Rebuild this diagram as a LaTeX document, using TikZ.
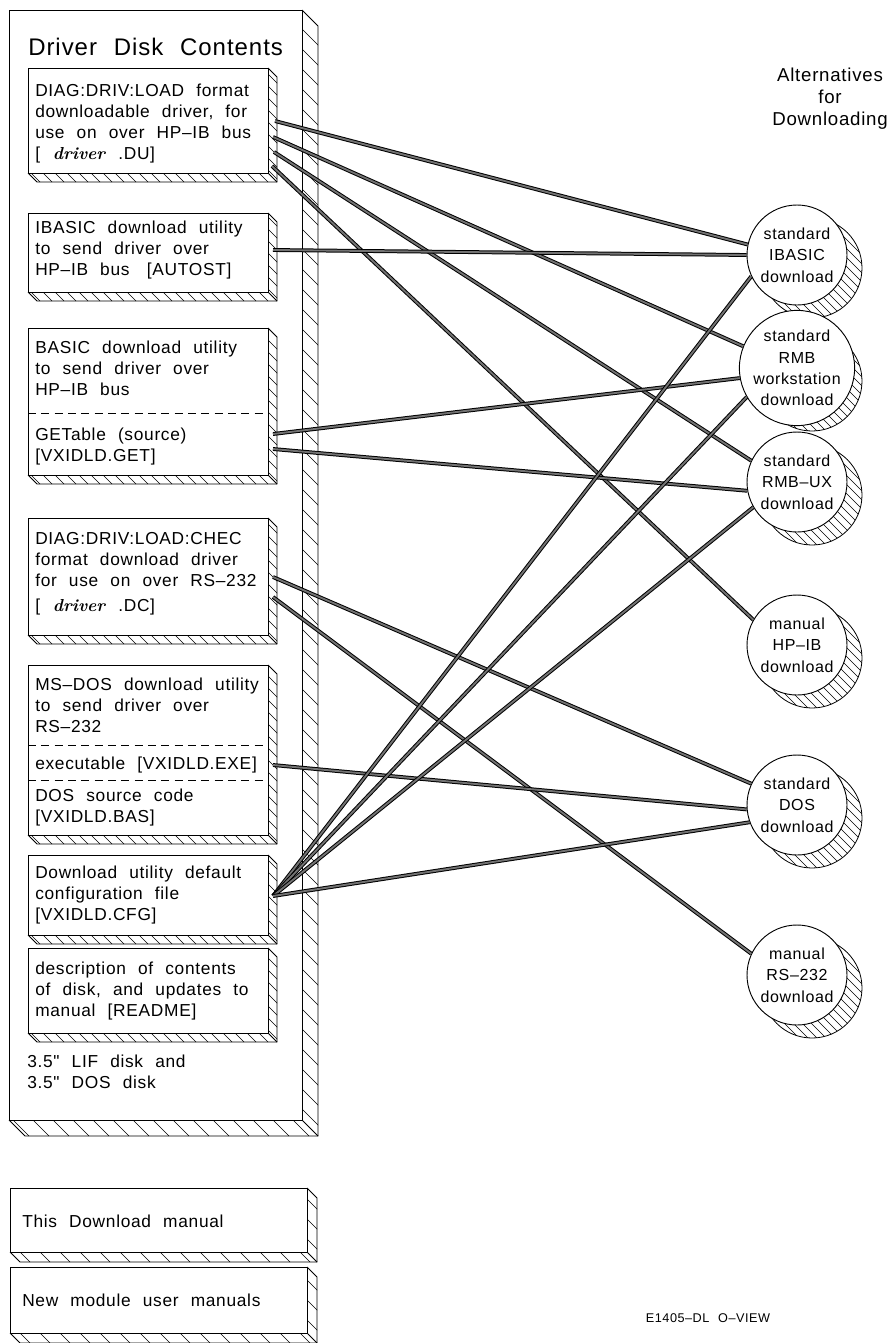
\documentclass[tikz,border=0pt]{standalone}
\usepackage{fontspec}
\newfontfamily\cad{Liberation Sans}[LetterSpace=4.0,WordSpace=2.2]
\usetikzlibrary{fit}
\tikzset{
  edge/.style={line width=0.6pt},
  hatchline/.style={line width=0.4pt},
  face/.style={draw, line width=0.6pt, fill=white, inner sep=0pt},
  txt/.style={font=\cad\fontsize{13}{15.75}\selectfont, align=left, inner sep=0pt, anchor=base west},
  circ/.style={draw, circle, line width=0.7pt, fill=white, inner sep=0pt, minimum size=75pt,
    align=center, font=\cad\fontsize{12}{16}\selectfont},
  conn/.style={draw=black, line width=0.75pt, double=black!55, double distance=1.4pt},
  sep/.style={line width=0.6pt, dash pattern=on 6pt off 4pt},
}
\newcommand{\slab}[7]{%
  \begin{scope}
    \clip (#4,#3) -- ({#4+#6},{#3+#6}) -- ({#4+#6},{#5+#6}) -- ({#2+#6},{#5+#6}) -- (#2,#5) -- (#4,#5) -- cycle;
    \pgfmathsetmacro{\kmin}{#2-#5-#6}
    \pgfmathsetmacro{\kmax}{#4+#6-#3}
    \pgfmathsetmacro{\knext}{\kmin+#7}
    \foreach \k in {\kmin,\knext,...,\kmax} \draw[hatchline] ({\k+#3},#3) -- ({\k+#5+#6},{#5+#6});
  \end{scope}
  \draw[edge] (#4,#3) -- ({#4+#6},{#3+#6}) -- ({#4+#6},{#5+#6}) -- ({#2+#6},{#5+#6}) -- (#2,#5);
  \draw[edge] (#4,#5) -- ({#4+#6},{#5+#6});
  \node[face, fit={(#2,#3) (#4,#5)}] (#1) {};
}
\newcommand{\disc}[4]{%
  \begin{scope}
    \clip ({#2+15},{#3+13}) circle[radius=50];
    \pgfmathsetmacro{\kc}{#2-#3+2}
    \foreach \j in {-9,...,9} \draw[hatchline] ({\kc+9*\j+#3-70},{#3-70}) -- ({\kc+9*\j+#3+90},{#3+90});
  \end{scope}
  \draw[edge] ({#2+15},{#3+13}) circle[radius=50];
  \node[circ] (#1) at (#2,#3) {#4};
}
\newcommand{\drv}{\textrm{\bfseries\itshape driver}}
\begin{document}
\begin{tikzpicture}[x=0.75pt,y=-0.75pt]
\path[use as bounding box, fill=white] (0,0) rectangle (891,1343);

% outer disk box
\slab{disk}{9}{10}{302}{1120}{16}{20}
\node[anchor=base west, inner sep=0pt, font=\cad\fontsize{18}{22}\selectfont] (title) at (28,55) {Driver Disk Contents};

% inner boxes (anchor = baseline of last line)
\slab{b1}{28}{68}{268}{173}{9}{12}
\node[txt] (t1) at (35,159) {DIAG:DRIV:LOAD format\\downloadable driver, for\\use on over HP–IB bus\\{[} \drv\ .DU{]}};

\slab{b2}{28}{213}{268}{292}{9}{12}
\node[txt] (t2) at (35,275) {IBASIC download utility\\to send driver over\\HP–IB bus\quad {[}AUTOST{]}};

\slab{b3}{28}{328}{268}{475}{9}{12}
\draw[sep] (28,413) -- (268,413);
\node[txt] (t3a) at (35,395) {BASIC download utility\\to send driver over\\HP–IB bus};
\node[txt] (t3b) at (35,461) {GETable (source)\\{[}VXIDLD.GET{]}};

\slab{b4}{28}{518}{268}{635}{9}{12}
\node[txt] (t4) at (35,611) {DIAG:DRIV:LOAD:CHEC\\format download driver\\for use on over RS–232\\[3pt]{[} \drv\ .DC{]}};

\slab{b5}{28}{665}{268}{835}{9}{12}
\draw[sep] (28,745) -- (268,745);
\draw[sep] (28,780) -- (268,780);
\node[txt] (t5a) at (35,732) {MS–DOS download utility\\to send driver over\\RS–232};
\node[txt] (t5b) at (35,769) {executable {[}VXIDLD.EXE{]}};
\node[txt] (t5c) at (35,822) {DOS source code\\{[}VXIDLD.BAS{]}};

\slab{b6}{28}{855}{268}{935}{9}{12}
\node[txt] (t6) at (35,920) {Download utility default\\configuration file\\{[}VXIDLD.CFG{]}};

\slab{b7}{28}{948}{268}{1033}{9}{12}
\node[txt] (t7) at (35,1016) {description of contents\\of disk, and updates to\\manual {[}README{]}};

\node[txt] (media) at (27,1088) {3.5" LIF disk and\\3.5" DOS disk};

% manuals
\slab{man}{10}{1188}{307}{1252}{10}{20}
\node[txt] (tman) at (22,1227) {This Download manual};
\slab{mods}{10}{1267}{307}{1333}{10}{20}
\node[txt] (tmods) at (22,1306) {New module user manuals};

% alternatives
\node[align=center, anchor=north, inner sep=0pt, font=\cad\fontsize{14}{16.5}\selectfont] (alt) at (830,68) {Alternatives\\for\\Downloading};

\disc{c1}{797}{255}{standard\\IBASIC\\download}
\disc{c2}{797}{368}{standard\\RMB\\workstation\\download}
\disc{c3}{797}{482}{standard\\RMB–UX\\download}
\disc{c4}{797}{645}{manual\\HP–IB\\download}
\disc{c5}{797}{805}{standard\\DOS\\download}
\disc{c6}{797}{975}{manual\\RS–232\\download}

\node[inner sep=0pt, font=\cad\fontsize{9.5}{11}\selectfont] (code) at (708,1318) {E1405–DL O–VIEW};

% ports
\coordinate (p1a) at (275,121);
\coordinate (p1b) at (273,137);
\coordinate (p1c) at (274,152);
\coordinate (p1d) at (272,166);
\coordinate (p2) at (273,250);
\coordinate (p3a) at (273,434);
\coordinate (p3b) at (273,449);
\coordinate (p4a) at (273,577);
\coordinate (p4b) at (273,597);
\coordinate (p5) at (273,765);
\coordinate (p6) at (273,896);

\draw[conn] (p1a) -- (c1.168);
\draw[conn] (p1b) -- (c2.158);
\draw[conn] (p1c) -- (c3.155);
\draw[conn] (p1d) -- (c4.150);
\draw[conn] (p2) -- (c1.180);
\draw[conn] (p3a) -- (c2.190);
\draw[conn] (p3b) -- (c3.190);
\draw[conn] (p4a) -- (c5.155);
\draw[conn] (p4b) -- (c6.155);
\draw[conn] (p5) -- (c5.185);
\draw[conn] (p6) -- (c1.205);
\draw[conn] (p6) -- (c2.210);
\draw[conn] (p6) -- (c3.210);
\draw[conn] (p6) -- (c5.200);
\end{tikzpicture}
\end{document}
